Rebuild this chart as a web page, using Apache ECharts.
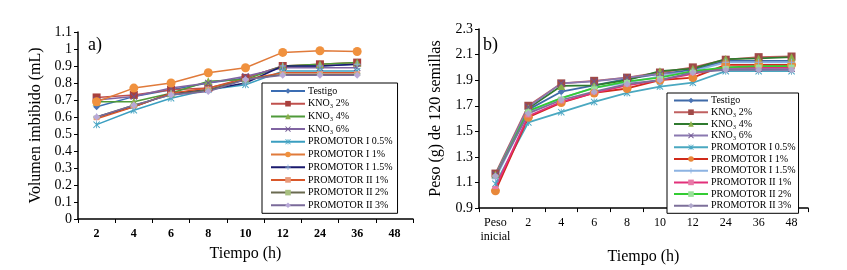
<!DOCTYPE html>
<html>
<head>
<meta charset="utf-8">
<script src="https://cdn.jsdelivr.net/npm/echarts@6/dist/echarts.min.js"></script>
<style>
body { margin: 0; background: #fff; }
#wrap { position: relative; width: 847px; height: 270px; }
#chartA { position: absolute; left: 0; top: 0; width: 430px; height: 270px; }
#chartB { position: absolute; left: 420px; top: 0; width: 427px; height: 270px; }
</style>
</head>
<body>
<div id="wrap">
  <div id="chartA"></div>
  <div id="chartB"></div>
</div>
<script>
// categorias
var horasA = ['2', '4', '6', '8', '10', '12', '24', '36', '48'];
var horasB = ['Peso\ninicial', '2', '4', '6', '8', '10', '12', '24', '36', '48'];
var nombres = ['Testigo', 'KNO₃ 2%', 'KNO₃ 4%', 'KNO₃ 6%', 'PROMOTOR I 0.5%', 'PROMOTOR I 1%',
  'PROMOTOR I 1.5%', 'PROMOTOR II 1%', 'PROMOTOR II 2%', 'PROMOTOR II 3%'];

// a) volumen imbibido (mL), sin dato a las 48 h
var volTestigo = [0.66, 0.72, 0.76, 0.80, 0.83, 0.90, 0.90, 0.91];
var volKno2 = [0.715, 0.73, 0.76, 0.77, 0.83, 0.90, 0.91, 0.92];
var volKno4 = [0.69, 0.69, 0.74, 0.81, 0.82, 0.90, 0.91, 0.92];
var volKno6 = [0.70, 0.72, 0.77, 0.80, 0.84, 0.89, 0.89, 0.89];
var volP1_05 = [0.555, 0.64, 0.71, 0.76, 0.79, 0.87, 0.87, 0.87];
var volP1_1 = [0.69, 0.77, 0.80, 0.86, 0.89, 0.98, 0.99, 0.985];
var volP1_15 = [0.60, 0.66, 0.74, 0.76, 0.80, 0.90, 0.90, 0.91];
var volP2_1 = [0.59, 0.66, 0.74, 0.77, 0.82, 0.86, 0.86, 0.86];
var volP2_2 = [0.60, 0.67, 0.73, 0.76, 0.82, 0.85, 0.85, 0.85];
var volP2_3 = [0.60, 0.67, 0.73, 0.75, 0.82, 0.845, 0.845, 0.845];

// b) peso (g) de 120 semillas
var pesoTestigo = [1.15, 1.67, 1.81, 1.86, 1.91, 1.95, 1.98, 2.05, 2.05, 2.05];
var pesoKno2 = [1.17, 1.70, 1.875, 1.895, 1.92, 1.96, 2.00, 2.06, 2.08, 2.085];
var pesoKno4 = [1.16, 1.68, 1.855, 1.86, 1.90, 1.97, 1.99, 2.065, 2.07, 2.08];
var pesoKno6 = [1.16, 1.69, 1.875, 1.89, 1.92, 1.95, 1.96, 1.99, 1.99, 1.99];
var pesoP1_05 = [1.09, 1.57, 1.65, 1.73, 1.80, 1.85, 1.88, 1.97, 1.97, 1.97];
var pesoP1_1 = [1.035, 1.61, 1.725, 1.80, 1.835, 1.90, 1.92, 2.02, 2.02, 2.02];
var pesoP1_15 = [1.13, 1.65, 1.76, 1.84, 1.88, 1.93, 1.97, 2.04, 2.04, 2.04];
var pesoP2_1 = [1.06, 1.62, 1.73, 1.80, 1.86, 1.90, 1.95, 2.00, 2.00, 2.00];
var pesoP2_2 = [1.15, 1.66, 1.76, 1.84, 1.89, 1.92, 1.97, 2.00, 2.01, 2.01];
var pesoP2_3 = [1.15, 1.64, 1.745, 1.81, 1.87, 1.90, 1.96, 1.98, 1.98, 1.98];

// simbolos tipo Excel
var symX = 'path://M0,1 L1,0 L5,4 L9,0 L10,1 L6,5 L10,9 L9,10 L5,6 L1,10 L0,9 L4,5 Z';
var symAst = 'path://M0,1 L1,0 L5,4 L9,0 L10,1 L6,5 L10,9 L9,10 L5,6 L1,10 L0,9 L4,5 Z M4.4,0 L5.6,0 L5.6,10 L4.4,10 Z';
var symPlus = 'path://M4.3,0 L5.7,0 L5.7,4.3 L10,4.3 L10,5.7 L5.7,5.7 L5.7,10 L4.3,10 L4.3,5.7 L0,5.7 L0,4.3 L4.3,4.3 Z';
var simbolos = ['diamond', 'rect', 'triangle', symX, symAst, 'circle', symPlus, 'rect', 'rect', 'diamond'];
var tamanos = [7, 8, 8, 7, 7, 9, 7, [6, 3], [6, 3], 7];

var lineasA = ['#3b6db3', '#c0504d', '#4f9a3a', '#8064a2', '#3a9ec0', '#e07a3a', '#1a1a6e', '#d9572a', '#6a6a50', '#7a6a9a'];
var marcasA = ['#4a74b5', '#a9403d', '#8aae4a', '#6e5490', '#4ba6c4', '#f0913e', '#8ab0d8', '#e89a7a', '#a8c080', '#b8a8d8'];
var lineasB = ['#3f6aa8', '#c06060', '#2f7a2f', '#8a78b0', '#4aa8c0', '#d02a1a', '#8db3e2', '#e2307a', '#33cc33', '#7d6f9a'];
var marcasB = ['#4a74b5', '#a04a48', '#8aae4a', '#6e5490', '#4ba6c4', '#e8883a', '#8db3e2', '#e87aa8', '#9ae09a', '#b0a8cc'];

var datosA = [volTestigo, volKno2, volKno4, volKno6, volP1_05, volP1_1, volP1_15, volP2_1, volP2_2, volP2_3];
var datosB = [pesoTestigo, pesoKno2, pesoKno4, pesoKno6, pesoP1_05, pesoP1_1, pesoP1_15, pesoP2_1, pesoP2_2, pesoP2_3];

var fuente = 'Liberation Serif';

function armarSeries(datos, lineas, marcas, ancho) {
  var series = [];
  for (var i = 0; i < datos.length; i++) {
    series.push({
      name: nombres[i],
      type: 'line',
      data: datos[i],
      symbol: simbolos[i],
      symbolSize: tamanos[i],
      lineStyle: { color: lineas[i], width: ancho },
      itemStyle: { color: marcas[i] },
      animation: false
    });
  }
  return series;
}

function armarOpcion(cfg) {
  return {
    animation: false,
    textStyle: { fontFamily: fuente },
    grid: cfg.grid,
    graphic: [{
      type: 'text', left: cfg.etiqueta.x, top: cfg.etiqueta.y,
      style: { text: cfg.etiqueta.texto, font: '18px ' + fuente, fill: '#000' }
    }],
    legend: {
      orient: 'vertical',
      left: cfg.leyenda.left,
      top: cfg.leyenda.top,
      padding: cfg.leyenda.padding,
      itemGap: cfg.leyenda.gap,
      itemWidth: 34,
      itemHeight: 7,
      borderColor: '#000',
      borderWidth: 1,
      backgroundColor: '#fff',
      textStyle: { fontFamily: fuente, fontSize: 10, color: '#000', lineHeight: cfg.leyenda.lh, padding: [0, 0, 0, -2] },
      data: nombres
    },
    xAxis: {
      type: 'category',
      data: cfg.categorias,
      name: 'Tiempo (h)',
      nameLocation: 'middle',
      nameGap: cfg.nameGapX,
      nameTextStyle: { fontFamily: fuente, fontSize: 16, color: '#000' },
      axisLine: { lineStyle: { color: '#000', width: 1.5 } },
      axisTick: { show: true, length: 4, interval: 0, lineStyle: { color: '#000' } },
      axisLabel: { interval: 0, fontFamily: fuente, fontSize: 12, color: '#000', fontWeight: cfg.pesoX, margin: 8, lineHeight: 14 },
      splitLine: { show: false }
    },
    yAxis: {
      type: 'value',
      min: cfg.min,
      max: cfg.max,
      interval: cfg.intervalo,
      name: cfg.nombreY,
      nameLocation: 'middle',
      nameGap: cfg.nameGapY,
      nameTextStyle: { fontFamily: fuente, fontSize: 16, color: '#000' },
      axisLine: { show: true, lineStyle: { color: '#000', width: 1.5 } },
      axisTick: { show: true, length: 4, lineStyle: { color: '#000' } },
      axisLabel: { fontFamily: fuente, fontSize: 14, color: '#000', margin: 6, formatter: function (v) { return +v.toFixed(1); } },
      splitLine: { show: false }
    },
    series: cfg.series
  };
}

var chartA = echarts.init(document.getElementById('chartA'));
chartA.setOption(armarOpcion({
  grid: { left: 78, right: 17, top: 32, bottom: 51 },
  etiqueta: { texto: 'a)', x: 88, y: 36 },
  leyenda: { left: 262, top: 83, padding: [2, 5, 2, 8], gap: 0.7, lh: 12 },
  categorias: horasA,
  nameGapX: 21,
  pesoX: 'bold',
  min: 0, max: 1.1, intervalo: 0.1,
  nombreY: 'Volumen imbibido (mL)',
  nameGapY: 34,
  series: armarSeries(datosA, lineasA, marcasA, 1.5)
}));

var chartB = echarts.init(document.getElementById('chartB'));
chartB.setOption(armarOpcion({
  grid: { left: 50, right: 39, top: 29, bottom: 52 },
  etiqueta: { texto: 'b)', x: 63, y: 36 },
  leyenda: { left: 247, top: 93, padding: [2, 3, 2, 6], gap: 0.7, lh: 11 },
  categorias: horasB,
  nameGapX: 24,
  pesoX: 'normal',
  min: 0.9, max: 2.3, intervalo: 0.2,
  nombreY: 'Peso (g) de 120 semillas',
  nameGapY: 35,
  series: armarSeries(datosB, lineasB, marcasB, 1.8)
}));
</script>
</body>
</html>
